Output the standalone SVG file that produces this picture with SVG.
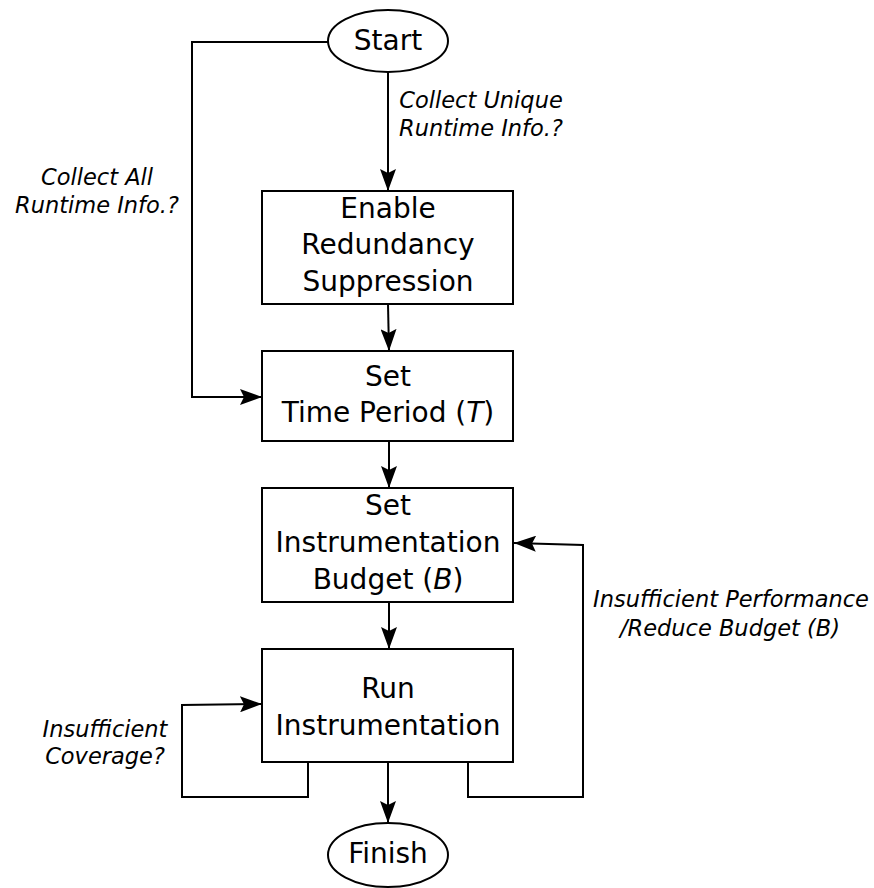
<svg xmlns="http://www.w3.org/2000/svg" width="874" height="888" viewBox="0 0 874 888">
  <style>
    .shape { fill: #ffffff; stroke: #000000; stroke-width: 2; }
    .edge { fill: none; stroke: #000000; stroke-width: 2; }
    .node-text { font-family: "DejaVu Sans", "Liberation Sans", sans-serif; font-size: 28px; fill: #000000; text-anchor: middle; }
    .edge-label { font-family: "DejaVu Sans", "Liberation Sans", sans-serif; font-size: 22.5px; font-style: italic; fill: #000000; text-anchor: middle; }
    .var { font-style: italic; }
  </style>
  <defs>
    <marker id="arrow" viewBox="0 0 22 16" refX="22" refY="8" markerWidth="22" markerHeight="16" markerUnits="userSpaceOnUse" orient="auto">
      <path d="M0,0 L22,8 L0,16 L4,8 Z" fill="#000000"/>
    </marker>
  </defs>

  <g id="connectors">
    <!-- Start -> Enable Redundancy Suppression -->
    <path class="edge" d="M388,72 L388,191" marker-end="url(#arrow)"/>
    <!-- Start -> Set Time Period (bypass on the left) -->
    <path class="edge" d="M328,42 L192,42 L192,397 L262,397" marker-end="url(#arrow)"/>
    <!-- Enable Redundancy Suppression -> Set Time Period -->
    <path class="edge" d="M388,304 L389,351" marker-end="url(#arrow)"/>
    <!-- Set Time Period -> Set Instrumentation Budget -->
    <path class="edge" d="M389,441 L389,488" marker-end="url(#arrow)"/>
    <!-- Set Instrumentation Budget -> Run Instrumentation -->
    <path class="edge" d="M389,602 L389,649" marker-end="url(#arrow)"/>
    <!-- Run Instrumentation -> Finish -->
    <path class="edge" d="M388,762 L388,823" marker-end="url(#arrow)"/>
    <!-- Run Instrumentation self loop (insufficient coverage) -->
    <path class="edge" d="M308,762 L308,797 L182,797 L182,705 L262,704" marker-end="url(#arrow)"/>
    <!-- Run Instrumentation -> Set Instrumentation Budget (reduce budget) -->
    <path class="edge" d="M468,762 L468,797 L583,797 L583,545 L514,543" marker-end="url(#arrow)"/>
  </g>

  <g id="edge-labels">
    <text class="edge-label" x="481" y="108">Collect Unique</text>
    <text class="edge-label" x="481" y="136">Runtime Info.?</text>
    <text class="edge-label" x="97" y="185">Collect All</text>
    <text class="edge-label" x="97" y="213">Runtime Info.?</text>
    <text class="edge-label" x="105" y="737">Insufficient</text>
    <text class="edge-label" x="105" y="764">Coverage?</text>
    <text class="edge-label" x="731" y="607">Insufficient Performance</text>
    <text class="edge-label" x="730" y="636">/Reduce Budget (B)</text>
  </g>

  <g id="start">
    <ellipse class="shape" cx="388" cy="41" rx="60" ry="31"/>
    <text class="node-text" x="388" y="50">Start</text>
  </g>

  <g id="enable-redundancy-suppression">
    <rect class="shape" x="262" y="191" width="251" height="113"/>
    <text class="node-text" x="388" y="218">Enable</text>
    <text class="node-text" x="388" y="254">Redundancy</text>
    <text class="node-text" x="388" y="291">Suppression</text>
  </g>

  <g id="set-time-period">
    <rect class="shape" x="262" y="351" width="251" height="90"/>
    <text class="node-text" x="388" y="386">Set</text>
    <text class="node-text" x="388" y="422">Time Period (<tspan class="var">T</tspan>)</text>
  </g>

  <g id="set-instrumentation-budget">
    <rect class="shape" x="262" y="488" width="251" height="114"/>
    <text class="node-text" x="388" y="515">Set</text>
    <text class="node-text" x="388" y="552">Instrumentation</text>
    <text class="node-text" x="388" y="589">Budget (<tspan class="var">B</tspan>)</text>
  </g>

  <g id="run-instrumentation">
    <rect class="shape" x="262" y="649" width="251" height="113"/>
    <text class="node-text" x="388" y="698">Run</text>
    <text class="node-text" x="388" y="735">Instrumentation</text>
  </g>

  <g id="finish">
    <ellipse class="shape" cx="388" cy="855" rx="60" ry="32"/>
    <text class="node-text" x="388" y="863">Finish</text>
  </g>
</svg>
